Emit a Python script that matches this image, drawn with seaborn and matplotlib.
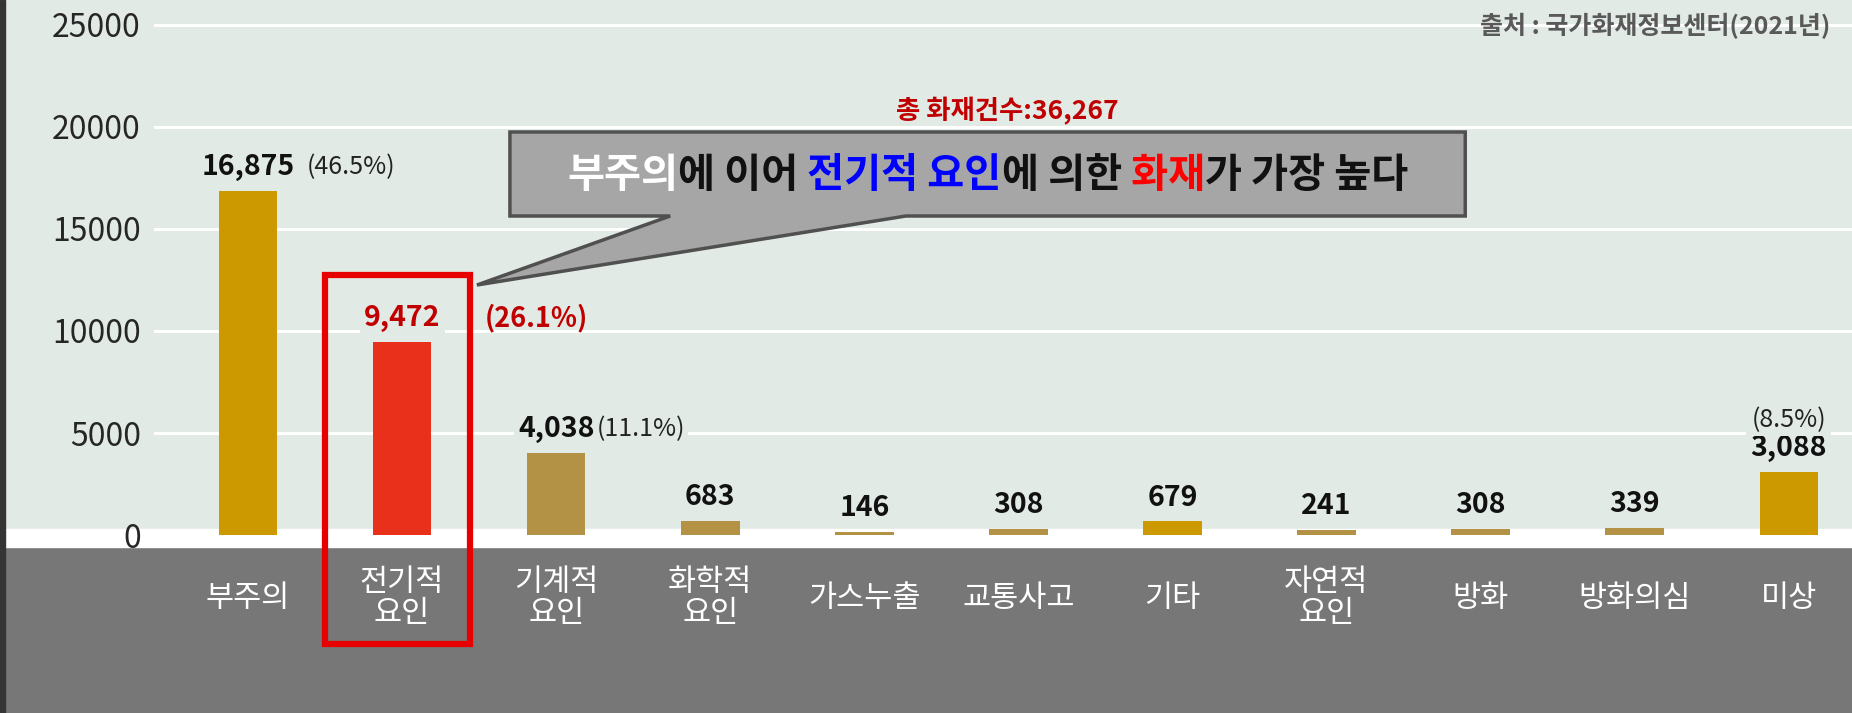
import matplotlib
matplotlib.use("Agg")
import matplotlib.pyplot as plt
import seaborn as sns
from matplotlib.patches import Rectangle, Polygon

# data
causes = ["부주의", "전기적\n요인", "기계적\n요인", "화학적\n요인", "가스누출", "교통사고",
          "기타", "자연적\n요인", "방화", "방화의심", "미상"]
counts = [16875, 9472, 4038, 683, 146, 308, 679, 241, 308, 339, 3088]
shares = ["(46.5%)", "(26.1%)", "(11.1%)", "", "", "", "", "", "", "", "(8.5%)"]
bar_colors = ["#CC9900", "#E8301A", "#B39145", "#B39145", "#B39145", "#B39145",
              "#CC9900", "#B39145", "#B39145", "#B39145", "#CC9900"]
y_ticks = [0, 5000, 10000, 15000, 20000, 25000]
total_label = "총 화재건수:36,267"
source_label = "출처 : 국가화재정보센터(2021년)"
callout_parts = [("부주의", "white"), ("에 이어", "#111111"), (" 전기적 요인", "#0000FF"),
                 ("에 의한", "#111111"), (" 화재", "#FF0000"), ("가 가장 높다", "#111111")]

BG = "#E2EAE5"
W, H = 1852, 713

sns.set_style("white")
plt.rcParams["font.family"] = ["Noto Sans CJK KR", "DejaVu Sans"]

fig = plt.figure(figsize=(W / 100, H / 100), dpi=100, facecolor=BG)

# background bands
fig.add_artist(Rectangle((0, 0), 1, 166 / H, transform=fig.transFigure,
                         color="#777777", zorder=-2))
fig.add_artist(Rectangle((0, 166 / H), 1, 18 / H, transform=fig.transFigure,
                         color="white", zorder=-2))
fig.add_artist(Rectangle((0, 0), 5 / W, 1, transform=fig.transFigure,
                         color="#353535", zorder=-1))

ax = fig.add_axes([154 / W, 166 / H, 1 - 154 / W, 1 - 166 / H])
ax.set_facecolor("none")

sns.barplot(x=causes, y=counts, hue=causes, palette=bar_colors, width=0.38,
            saturation=1, legend=False, ax=ax, zorder=3, linewidth=0, edgecolor="none")

ax.set_xlim(-0.61, 10.41)
ax.set_ylim(-588, 26225)
ax.set_yticks(y_ticks)
ax.set_xlabel("")
ax.set_ylabel("")
for s in ax.spines.values():
    s.set_visible(False)
ax.grid(axis="y", color="white", lw=2.2)
ax.set_axisbelow(True)

ax.tick_params(axis="y", length=0, pad=9.5, labelsize=23, labelcolor="#262626")
ax.tick_params(axis="x", length=0, pad=37, labelsize=22, labelcolor="white")
for lab in ax.get_xticklabels():
    lab.set_va("center")
    lab.set_linespacing(1.0)

# value labels
for i, (v, s) in enumerate(zip(counts, shares)):
    col = "#C00000" if i == 1 else "#111111"
    t = ax.annotate(f"{v:,}", xy=(i, v), xytext=(0, 17), textcoords="offset points",
                    ha="center", va="center", fontsize=20.5, fontweight="bold", color=col,
                    bbox=dict(boxstyle="square,pad=0.15", fc=BG, ec="none"), zorder=4)
    if not s:
        continue
    if i == 10:
        ax.annotate(s, xy=(0.5, 1), xycoords=t, xytext=(0, 1), textcoords="offset points",
                    ha="center", va="bottom", fontsize=18, color="#222222",
                    bbox=dict(boxstyle="square,pad=0.1", fc=BG, ec="none"), zorder=4)
    elif i == 1:
        ax.annotate(s, xy=(1, 0.5), xycoords=t, xytext=(32, 0), textcoords="offset points",
                    ha="left", va="center", fontsize=19.5, fontweight="bold", color="#C00000",
                    zorder=4)
    else:
        gap = 9 if i == 0 else 2
        ax.annotate(s, xy=(1, 0.5), xycoords=t, xytext=(gap, 0), textcoords="offset points",
                    ha="left", va="center", fontsize=18, color="#222222",
                    bbox=dict(boxstyle="square,pad=0.1", fc=BG, ec="none"), zorder=4)

# red highlight box around the electrical bar
ax.add_patch(Rectangle((0.5, 12745), 0.94, -18090, fill=False, ec="#E60000", lw=4.5,
                       clip_on=False, zorder=6))

# speech-bubble callout
bubble = [(1.70, 19755), (7.90, 19755), (7.90, 15637), (4.27, 15637),
          (1.486, 12255), (2.74, 15637), (1.70, 15637)]
ax.add_patch(Polygon(bubble, closed=True, fc="#A6A6A6", ec="#505050", lw=2.5,
                     clip_on=False, zorder=5))

pieces = []
t = ax.text(0, 0, callout_parts[0][0], color=callout_parts[0][1], fontsize=29,
            fontweight="bold", ha="left", va="center", zorder=7)
pieces.append(t)
for txt, col in callout_parts[1:]:
    t = ax.annotate(txt, xy=(1, 0), xycoords=t, ha="left", va="bottom", color=col,
                    fontsize=29, fontweight="bold", zorder=7)
    pieces.append(t)

fig.canvas.draw()
r = fig.canvas.get_renderer()
x0 = pieces[0].get_window_extent(r).x0
x1 = pieces[-1].get_window_extent(r).x1
cx, cy = ax.transData.transform((4.80, 17600))
pieces[0].set_position(ax.transData.inverted().transform((cx - (x1 - x0) / 2, cy)))

fig.text(1007 / W, 1 - 111 / H, total_label, ha="center", va="center", fontsize=19,
         fontweight="bold", color="#C00000")
fig.text(1830 / W, 1 - 26 / H, source_label, ha="right", va="center", fontsize=18,
         fontweight="bold", color="#595959")

fig.savefig("out.png", dpi=100, facecolor=BG)
